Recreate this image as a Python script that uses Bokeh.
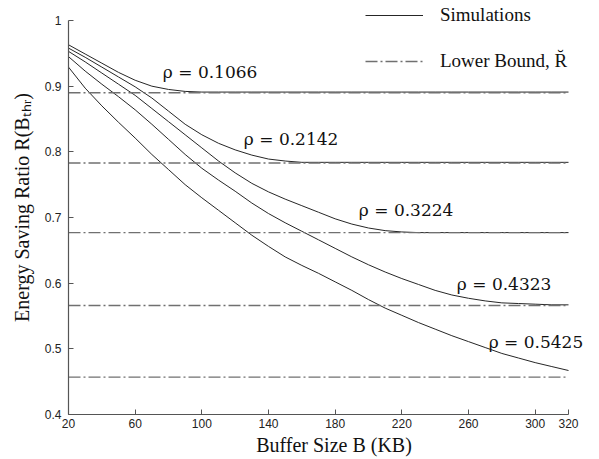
from bokeh.plotting import figure
from bokeh.models import Range1d, FixedTicker, CustomJSTickFormatter, Legend, LegendItem, Label
from bokeh.embed import file_html
from bokeh.resources import INLINE

# ---------------- data ----------------
buffer_kb = [20, 30, 40, 50, 60, 70, 80, 90, 100, 110, 120, 130, 140, 150, 160,
             170, 180, 190, 200, 210, 220, 230, 240, 250, 260, 270, 280, 290, 300, 310, 320]

sim_rho_01066 = [0.963, 0.949, 0.935, 0.921, 0.909, 0.900, 0.895, 0.892, 0.891, 0.891,
                 0.891, 0.891, 0.891, 0.891, 0.891, 0.891, 0.891, 0.891, 0.891, 0.891,
                 0.891, 0.891, 0.891, 0.891, 0.891, 0.891, 0.891, 0.891, 0.891, 0.891, 0.891]
sim_rho_02142 = [0.958, 0.944, 0.929, 0.914, 0.899, 0.882, 0.862, 0.842, 0.826, 0.813,
                 0.803, 0.795, 0.789, 0.786, 0.784, 0.784, 0.784, 0.784, 0.784, 0.784,
                 0.784, 0.784, 0.784, 0.784, 0.784, 0.784, 0.784, 0.784, 0.784, 0.784, 0.784]
sim_rho_03224 = [0.953, 0.937, 0.920, 0.903, 0.886, 0.866, 0.846, 0.826, 0.806, 0.786,
                 0.768, 0.752, 0.739, 0.728, 0.718, 0.708, 0.698, 0.690, 0.684, 0.680,
                 0.678, 0.677, 0.677, 0.677, 0.677, 0.677, 0.677, 0.677, 0.677, 0.677, 0.677]
sim_rho_04323 = [0.945, 0.923, 0.903, 0.884, 0.864, 0.842, 0.819, 0.796, 0.775, 0.757,
                 0.740, 0.722, 0.706, 0.692, 0.679, 0.666, 0.653, 0.640, 0.628, 0.617,
                 0.607, 0.598, 0.589, 0.582, 0.577, 0.573, 0.570, 0.569, 0.568, 0.567, 0.567]
sim_rho_05425 = [0.929, 0.897, 0.870, 0.845, 0.821, 0.796, 0.773, 0.750, 0.730, 0.711,
                 0.692, 0.673, 0.656, 0.640, 0.627, 0.615, 0.602, 0.589, 0.575, 0.562,
                 0.551, 0.540, 0.530, 0.520, 0.511, 0.502, 0.493, 0.486, 0.479, 0.473, 0.467]

rho_values = ["0.1066", "0.2142", "0.3224", "0.4323", "0.5425"]
lower_bounds = [0.890, 0.783, 0.677, 0.566, 0.457]
bound_x = [20, 320]

x_ticks = [20, 60, 100, 140, 180, 220, 260, 300, 320]
y_ticks = [0.4, 0.5, 0.6, 0.7, 0.8, 0.9, 1.0]

# label anchor positions (data units, left / baseline)
label_x = [76.6, 125.2, 194.2, 253.0, 272.1]
label_y = [0.921, 0.8196, 0.7116, 0.599, 0.510]

sims = [sim_rho_01066, sim_rho_02142, sim_rho_03224, sim_rho_04323, sim_rho_05425]

# ---------------- figure ----------------
# frame extends a little past the axes' end so the legend / last label are not clipped;
# axis lines are bounded to the data extents
W, H = 599, 459
LEFT, BOTTOM = 68, 45
px_per_x = 500 / 300.0
px_per_y = 394 / 0.6
x_end = 20 + (W - LEFT) / px_per_x
y_end = 0.4 + (H - BOTTOM) / px_per_y

p = figure(width=W, height=H, x_range=Range1d(20, x_end), y_range=Range1d(0.4, y_end),
           output_backend="svg", toolbar_location=None,
           min_border_left=LEFT, min_border_right=0, min_border_top=0, min_border_bottom=BOTTOM)
p.outline_line_color = None
p.xgrid.visible = False
p.ygrid.visible = False
p.background_fill_color = "white"

sim_renderers = []
for ys in sims:
    r = p.line(buffer_kb, ys, line_color="#262626", line_width=1.0)
    sim_renderers.append(r)

bound_renderers = []
for lb in lower_bounds:
    r = p.line(bound_x, [lb, lb], line_color="#707070", line_width=1.3, line_dash="12 3 2 3")
    bound_renderers.append(r)

for rv, lx, ly in zip(rho_values, label_x, label_y):
    p.add_layout(Label(x=lx, y=ly, text="ρ = " + rv, text_font="DejaVu Serif",
                       text_font_size="17px", text_color="#111111",
                       text_baseline="alphabetic", text_align="left"))

# axes
for ax in (p.xaxis[0], p.yaxis[0]):
    ax.major_tick_in = 5
    ax.major_tick_out = 0
    ax.minor_tick_line_color = None
    ax.axis_line_color = "#555555"
    ax.axis_line_width = 1.2
    ax.major_tick_line_color = "#555555"
    ax.major_label_text_font = "Liberation Sans"
    ax.major_label_text_font_size = "12px"
    ax.major_label_text_color = "#222222"
    ax.axis_label_text_font = "Liberation Serif"
    ax.axis_label_text_font_size = "20px"
    ax.axis_label_text_font_style = "normal"
    ax.axis_label_text_color = "#111111"

p.xaxis.bounds = (20, 320)
p.yaxis.bounds = (0.4, 1.0)
p.xaxis.ticker = FixedTicker(ticks=x_ticks)
p.yaxis.ticker = FixedTicker(ticks=y_ticks)
p.yaxis.formatter = CustomJSTickFormatter(code="return tick >= 0.999 ? '1' : tick.toFixed(1);")
p.xaxis.major_label_standoff = 4
p.yaxis.major_label_standoff = 7
p.xaxis.axis_label_standoff = 3
p.yaxis.axis_label_standoff = 9
p.xaxis.axis_label = "Buffer Size B (KB)"
p.yaxis.axis_label = "Energy Saving Ratio R(Bₜₕᵣ)"

legend = Legend(items=[LegendItem(label="Simulations", renderers=[sim_renderers[0]]),
                       LegendItem(label="Lower Bound, R̆", renderers=[bound_renderers[0]])],
                location=(297, 342))
legend.border_line_color = None
legend.background_fill_alpha = 0
legend.padding = 0
legend.margin = 0
legend.glyph_width = 58
legend.glyph_height = 20
legend.label_height = 20
legend.label_standoff = 17
legend.spacing = 24
legend.label_text_font = "Liberation Serif"
legend.label_text_font_size = "19px"
legend.label_text_color = "#111111"
p.add_layout(legend)

open("out.html", "w").write(file_html(p, INLINE))
